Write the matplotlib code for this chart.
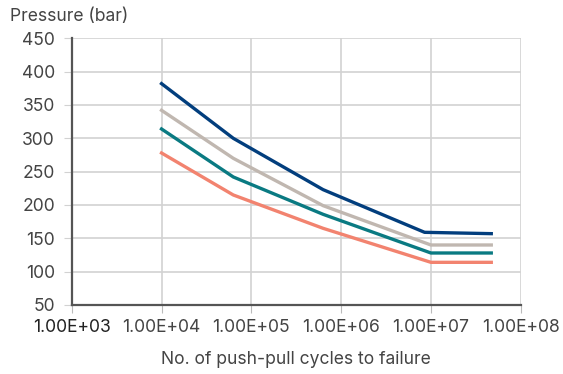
import matplotlib.pyplot as plt
from matplotlib.ticker import FixedLocator, NullLocator

plt.rcParams['font.family'] = ['Inter', 'DejaVu Sans']

# cycles to failure for each pressure curve
cycles = [1e4, 6.3e4, 6.3e5, 1e7, 4.7e7]
cycles_navy = [1e4, 6.3e4, 6.3e5, 8.5e6, 4.7e7]

p_navy = [382, 300, 223, 159, 157]
p_grey = [342, 270, 199, 140, 140]
p_teal = [314, 242, 186, 128, 128]
p_salmon = [278, 215, 165, 114, 114]

x_ticks = [1e3, 1e4, 1e5, 1e6, 1e7, 1e8]
x_labels = ['1.00E+03', '1.00E+04', '1.00E+05', '1.00E+06', '1.00E+07', '1.00E+08']
y_ticks = [50, 100, 150, 200, 250, 300, 350, 400, 450]

fig = plt.figure(figsize=(5.63, 3.74), dpi=100)
ax = fig.add_axes([0.1274, 0.1845, 0.7975, 0.7131])

ax.plot(cycles_navy, p_navy, color='#023e7d', lw=2.4)
ax.plot(cycles, p_grey, color='#c0b7b0', lw=2.4)
ax.plot(cycles, p_teal, color='#0a7a82', lw=2.4)
ax.plot(cycles, p_salmon, color='#f2836f', lw=2.4)

ax.set_xscale('log')
ax.set_xlim(1e3, 1e8)
ax.set_ylim(50, 450)
ax.xaxis.set_major_locator(FixedLocator(x_ticks))
ax.xaxis.set_minor_locator(NullLocator())
ax.set_xticklabels(x_labels)
ax.set_yticks(y_ticks)

ax.grid(True, color='#d2d2d2', lw=1.2)
ax.set_axisbelow(True)
for s in ['top', 'right']:
    ax.spines[s].set_visible(False)
for s in ['left', 'bottom']:
    ax.spines[s].set_color('#555555')
    ax.spines[s].set_linewidth(1.6)

ax.tick_params(axis='y', length=6, color='#d2d2d2', labelsize=12.6, labelcolor='#444444', pad=6)
ax.tick_params(axis='x', length=6, color='#bbbbbb', labelsize=12.6, labelcolor='#444444', pad=4)
ax.get_xticklabels()[0].set_color('#222222')

ax.set_xlabel('No. of push-pull cycles to failure', fontsize=12.6, color='#444444', labelpad=11)
fig.text(0.018, 0.955, 'Pressure (bar)', fontsize=12.6, color='#444444', va='center', ha='left')

fig.savefig('out.png', dpi=100)
